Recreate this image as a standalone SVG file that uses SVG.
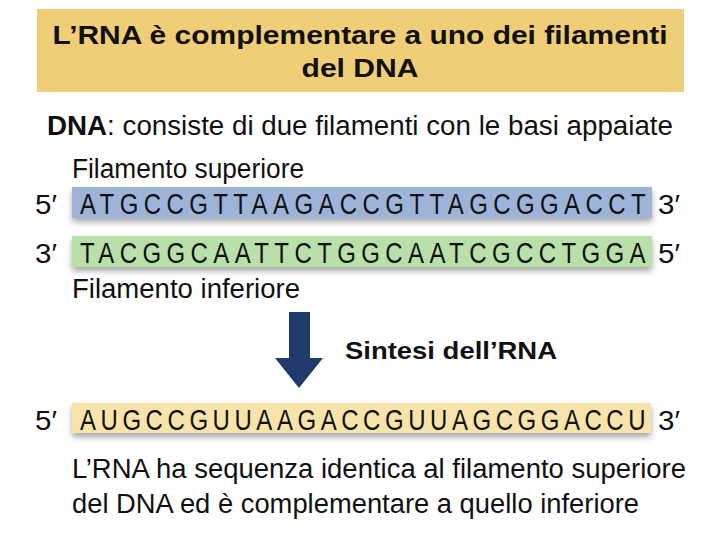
<svg xmlns="http://www.w3.org/2000/svg" width="720" height="540" viewBox="0 0 720 540">
  <defs>
    <filter id="sh" x="-5%" y="-30%" width="110%" height="180%">
      <feGaussianBlur in="SourceAlpha" stdDeviation="3"/>
      <feOffset dx="0" dy="4" result="b"/>
      <feComponentTransfer><feFuncA type="linear" slope="0.35"/></feComponentTransfer>
      <feMerge><feMergeNode/><feMergeNode in="SourceGraphic"/></feMerge>
    </filter>
  </defs>
  <style>
    text { font-family: "Liberation Sans", Arial, sans-serif; fill: #111; }
    .title { font-size: 26px; font-weight: bold; }
    .body { font-size: 27px; }
    .seq { font-size: 30px; }
    .end { font-size: 27px; }
  </style>
  <rect width="720" height="540" fill="#ffffff"/>
  <g id="title">
    <rect x="37" y="9" width="647" height="83" fill="#F0CE78"/>
    <text class="title" x="360" y="44" text-anchor="middle" textLength="615" lengthAdjust="spacingAndGlyphs">L’RNA è complementare a uno dei filamenti</text>
    <text class="title" x="360" y="77" text-anchor="middle" textLength="117" lengthAdjust="spacingAndGlyphs">del DNA</text>
  </g>
  <g id="dna-caption">
    <text class="body" x="47" y="135" textLength="626" lengthAdjust="spacingAndGlyphs"><tspan font-weight="bold">DNA</tspan>: consiste di due filamenti con le basi appaiate</text>
  </g>
  <g id="top-strand">
    <text class="body" x="72" y="178" textLength="232" lengthAdjust="spacingAndGlyphs">Filamento superiore</text>
    <rect x="72" y="187" width="580" height="31" fill="#9DB4D8" filter="url(#sh)"/>
    <text class="end" x="35" y="214" textLength="22" lengthAdjust="spacingAndGlyphs">5′</text>
    <text class="seq" transform="translate(80,214) scale(0.8,1)" x="0" y="0" textLength="707" lengthAdjust="spacing">ATGCCGTTAAGACCGTTAGCGGACCT</text>
    <text class="end" x="658" y="214" textLength="22" lengthAdjust="spacingAndGlyphs">3′</text>
  </g>
  <g id="bottom-strand">
    <rect x="72" y="236" width="580" height="31" fill="#B8E0A8" filter="url(#sh)"/>
    <text class="end" x="35" y="263" textLength="22" lengthAdjust="spacingAndGlyphs">3′</text>
    <text class="seq" transform="translate(80,263) scale(0.8,1)" x="0" y="0" textLength="707" lengthAdjust="spacing">TACGGCAATTCTGGCAATCGCCTGGA</text>
    <text class="end" x="658" y="263" textLength="22" lengthAdjust="spacingAndGlyphs">5′</text>
    <text class="body" x="72" y="298" textLength="228" lengthAdjust="spacingAndGlyphs">Filamento inferiore</text>
  </g>
  <g id="connectors">
    <polygon points="289,312 310,312 310,358 323,358 299,388 275,358 289,358" fill="#1F3B6B"/>
  </g>
  <g id="synthesis-label">
    <text x="345" y="359" font-size="24" font-weight="bold" textLength="212" lengthAdjust="spacingAndGlyphs">Sintesi dell’RNA</text>
  </g>
  <g id="rna">
    <rect x="72" y="403" width="579" height="30" fill="#F7E4AA" filter="url(#sh)"/>
    <text class="end" x="35" y="430" textLength="22" lengthAdjust="spacingAndGlyphs">5′</text>
    <text class="seq" transform="translate(80,430) scale(0.8,1)" x="0" y="0" textLength="707" lengthAdjust="spacing">AUGCCGUUAAGACCGUUAGCGGACCU</text>
    <text class="end" x="658" y="430" textLength="22" lengthAdjust="spacingAndGlyphs">3′</text>
  </g>
  <g id="rna-caption">
    <text class="body" x="72" y="478" textLength="614" lengthAdjust="spacingAndGlyphs">L’RNA ha sequenza identica al filamento superiore</text>
    <text class="body" x="72" y="513" textLength="567" lengthAdjust="spacingAndGlyphs">del DNA ed è complementare a quello inferiore</text>
  </g>
</svg>
